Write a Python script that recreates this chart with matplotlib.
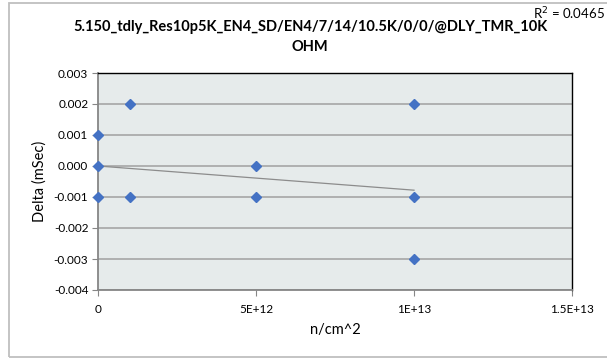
import matplotlib
matplotlib.use("Agg")
import matplotlib.pyplot as plt
from matplotlib.patches import Rectangle
from matplotlib.ticker import FixedLocator, FixedFormatter, FormatStrFormatter

plt.rcParams['font.family'] = ['Lato', 'DejaVu Sans']

# Data
fluence = [0, 0, 0, 1e12, 1e12, 5e12, 5e12, 1e13, 1e13, 1e13]
delta = [0.001, 0.000, -0.001, 0.002, -0.001, 0.000, -0.001, 0.002, -0.001, -0.003]
trend_x = [0, 1e13]
trend_y = [0.0, -0.00078]
r2_text = "R$^2$ = 0.0465"
title = "5.150_tdly_Res10p5K_EN4_SD/EN4/7/14/10.5K/0/0/@DLY_TMR_10K\nOHM"
x_ticks = [0, 5e12, 1e13, 1.5e13]
x_tick_labels = ["0", "5E+12", "1E+13", "1.5E+13"]
y_ticks = [-0.004, -0.003, -0.002, -0.001, 0.0, 0.001, 0.002, 0.003]

W, H = 607, 358
fig = plt.figure(figsize=(W / 100, H / 100), dpi=100)
fig.patch.set_facecolor('white')

# Chart border
fig.patches.append(Rectangle((9 / W, 1 - 357 / H), 620 / W, 354 / H,
                             transform=fig.transFigure, fill=False,
                             edgecolor='#BFBFBF', linewidth=1.3))

ax = fig.add_axes([98 / W, 1 - 290 / H, (572 - 98) / W, (290 - 73) / H])
ax.set_facecolor('#E6EBEB')

ax.set_xlim(0, 1.5e13)
ax.set_ylim(-0.004, 0.003)
ax.yaxis.set_major_locator(FixedLocator(y_ticks))
ax.yaxis.set_major_formatter(FormatStrFormatter('%.3f'))
ax.xaxis.set_major_locator(FixedLocator(x_ticks))
ax.xaxis.set_major_formatter(FixedFormatter(x_tick_labels))

ax.grid(axis='y', color='#A6A6A6', linewidth=1.2)
ax.set_axisbelow(True)

for s in ['top', 'right']:
    ax.spines[s].set_color('black')
    ax.spines[s].set_linewidth(1.0)
for s in ['left', 'bottom']:
    ax.spines[s].set_color('#868686')
    ax.spines[s].set_linewidth(1.3)

ax.tick_params(axis='both', direction='out', length=4, color='#868686',
               labelsize=8.5, labelcolor='#000000', pad=3)
ax.tick_params(axis='x', pad=6)

ax.plot(trend_x, trend_y, color='#8C8C8C', linewidth=0.9, zorder=2)
ax.plot(fluence, delta, linestyle='none', marker='D', markersize=5,
        color='#4472C4', markeredgecolor='#4472C4', zorder=3, clip_on=False)

ax.set_xlabel("n/cm^2", fontsize=10.5, labelpad=6)
ax.set_ylabel("Delta (mSec)", fontsize=10.5, labelpad=5)

fig.text(310 / W, 1 - 37 / H, title, ha='center', va='center',
         fontsize=10.5, fontweight='bold', linespacing=1.5)
fig.text(605 / W, 1 - 14 / H, r2_text, ha='right', va='center', fontsize=9.5)

fig.savefig("out.png", dpi=100)
